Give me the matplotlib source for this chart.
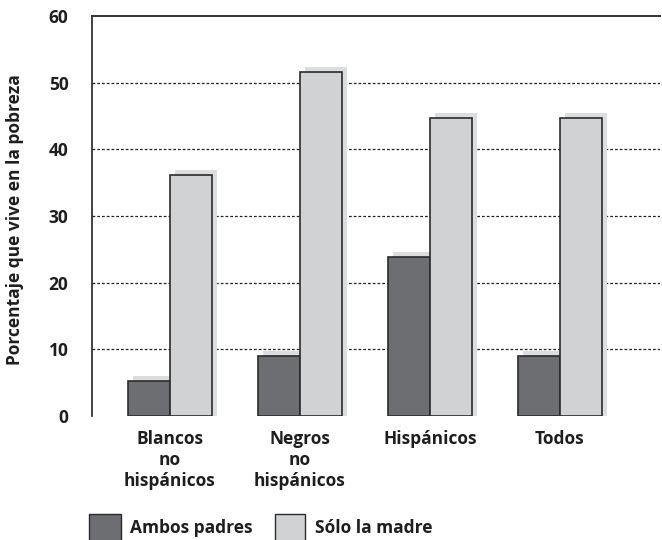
import matplotlib
matplotlib.use("Agg")
import matplotlib.pyplot as plt
from matplotlib.patches import Rectangle
import numpy as np

plt.rcParams['font.family'] = ['Open Sans', 'DejaVu Sans']

categories = ["Blancos\nno\nhispánicos", "Negros\nno\nhispánicos", "Hispánicos", "Todos"]
ambos_padres = [5.3, 9.0, 23.9, 9.0]
solo_madre = [36.2, 51.6, 44.7, 44.7]
series_names = ["Ambos padres", "Sólo la madre"]
y_ticks = [0, 10, 20, 30, 40, 50, 60]

dark = "#6d6e71"
light = "#d1d2d4"
shadow = "#dcdddf"
edge = "#2b2b2b"
txt = "#1e1e1e"
FS = 12.5

fig = plt.figure(figsize=(6.62, 5.40), dpi=100)
ax = fig.add_axes([92 / 662, 1 - 416 / 540, (660 - 92) / 662, 400 / 540])

x = np.arange(len(categories))
w = 0.323
px = 1 / 130.0           # one pixel in x data units
py = 60 / 400.0          # one pixel in y data units

# drop shadows behind each bar
ax.bar(x - w / 2 + 5 * px, np.array(ambos_padres) + 5 * py, w, color=shadow, zorder=2, linewidth=0)
ax.bar(x + w / 2 + 5 * px, np.array(solo_madre) + 5 * py, w, color=shadow, zorder=2, linewidth=0)

ax.bar(x - w / 2, ambos_padres, w, color=dark, edgecolor=edge, linewidth=1.2, zorder=3)
ax.bar(x + w / 2, solo_madre, w, color=light, edgecolor=edge, linewidth=1.2, zorder=3)

ax.set_xlim(-0.6, 3.77)
ax.set_ylim(0, 60)
ax.set_yticks(y_ticks)
ax.set_yticklabels([str(t) for t in y_ticks], fontsize=FS, fontweight='bold', color=txt)
ax.set_xticks(x)
ax.set_xticklabels(categories, fontsize=FS, fontweight='bold', color=txt, linespacing=1.22)
ax.tick_params(axis='y', length=0, pad=17)
ax.tick_params(axis='x', length=0, pad=10)

for t in y_ticks[1:-1]:
    ax.axhline(t, color="#222222", linestyle=(0, (2.2, 1.6)), linewidth=0.9, zorder=1)

ax.spines['right'].set_visible(False)
ax.spines['bottom'].set_visible(False)
ax.spines['left'].set_color("#222222")
ax.spines['top'].set_color("#333333")
ax.spines['left'].set_linewidth(1.2)
ax.spines['top'].set_linewidth(1.4)

ax.set_ylabel("Porcentaje que vive en la pobreza", fontsize=FS, fontweight='bold', color=txt)
ax.yaxis.set_label_coords(-0.119, 0.49)

# legend drawn in figure pixels
W, H = 662, 540
def fig_rect(x0, y0, x1, y1, fc):
    r = Rectangle((x0 / W, 1 - y1 / H), (x1 - x0) / W, (y1 - y0) / H,
                  transform=fig.transFigure, facecolor=fc, edgecolor=edge, linewidth=1.0)
    fig.patches.append(r)

fig_rect(89, 514, 121, 542, dark)
fig.text(130 / W, 1 - 528 / H, series_names[0], fontsize=FS, fontweight='bold',
         color=txt, va='center', ha='left')
fig_rect(275, 514, 305, 542, light)
fig.text(315 / W, 1 - 528 / H, series_names[1], fontsize=FS, fontweight='bold',
         color=txt, va='center', ha='left')

fig.savefig("out.png", dpi=100)
